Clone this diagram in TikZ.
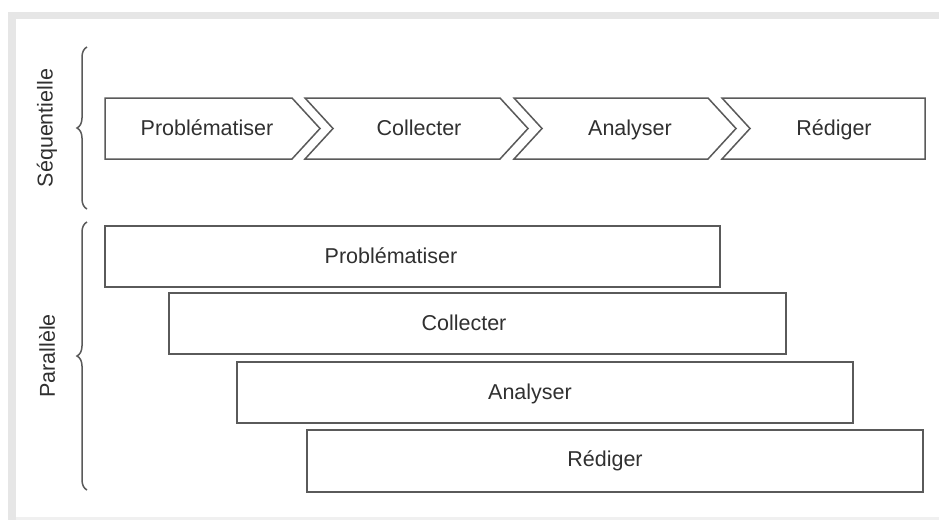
\documentclass[tikz,border=0pt]{standalone}
\usepackage{fontspec}
\setmainfont{Liberation Sans}
\usetikzlibrary{decorations.pathreplacing}
\definecolor{linegray}{HTML}{5A5A5A}
\definecolor{txtgray}{HTML}{303030}
\definecolor{framegray}{HTML}{E6E6E6}
\tikzset{
  stage/.style={draw=linegray, line width=1.5pt, line join=miter, fill=white},
  lbl/.style={text=txtgray, font=\fontsize{21.5}{24}\selectfont, inner sep=0pt, anchor=base},
  bracebar/.style={draw=linegray, line width=1.5pt, decorate, decoration={brace, amplitude=10pt}},
}
\begin{document}
\begin{tikzpicture}[x=1pt,y=-1pt]
\useasboundingbox (0,0) rectangle (939,520);
\fill[white] (0,0) rectangle (939,520);
% frame
\fill[framegray] (8,12) rectangle (939,19);
\fill[framegray] (8,12) rectangle (16,520);
\fill[framegray!60] (16,517) rectangle (939,520);

% braces
\coordinate (sb1) at (87,209);
\coordinate (sb2) at (87,47);
\coordinate (pb1) at (87,490);
\coordinate (pb2) at (87,222);
\draw[bracebar] (sb1) -- (sb2);
\draw[bracebar] (pb1) -- (pb2);
\node[lbl, anchor=center, rotate=90] (seq) at (47,128) {Séquentielle};
\node[lbl, anchor=center, rotate=90] (par) at (47,356) {Parallèle};

% sequential chevrons
\draw[stage] (105,98) -- (292,98) -- (320,128.5) -- (292,159) -- (105,159) -- cycle;
\draw[stage] (305,98) -- (500,98) -- (528,128.5) -- (500,159) -- (305,159) -- (333,128.5) -- cycle;
\draw[stage] (514,98) -- (708,98) -- (736,128.5) -- (708,159) -- (514,159) -- (542,128.5) -- cycle;
\draw[stage] (722,98) -- (925,98) -- (925,159) -- (722,159) -- (750,128.5) -- cycle;
\node[lbl] (s1) at (207,135.5) {Problématiser};
\node[lbl] (s2) at (419,135.5) {Collecter};
\node[lbl] (s3) at (630,135.5) {Analyser};
\node[lbl] (s4) at (834,135.5) {Rédiger};

% parallel boxes
\draw[stage] (105,226) rectangle (720,287);
\draw[stage] (169,293) rectangle (786,354);
\draw[stage] (237,362) rectangle (853,423);
\draw[stage] (307,430) rectangle (923,492);
\node[lbl] (p1) at (391,263) {Problématiser};
\node[lbl] (p2) at (464,330.5) {Collecter};
\node[lbl] (p3) at (530,399) {Analyser};
\node[lbl] (p4) at (605,466.5) {Rédiger};
\end{tikzpicture}
\end{document}
